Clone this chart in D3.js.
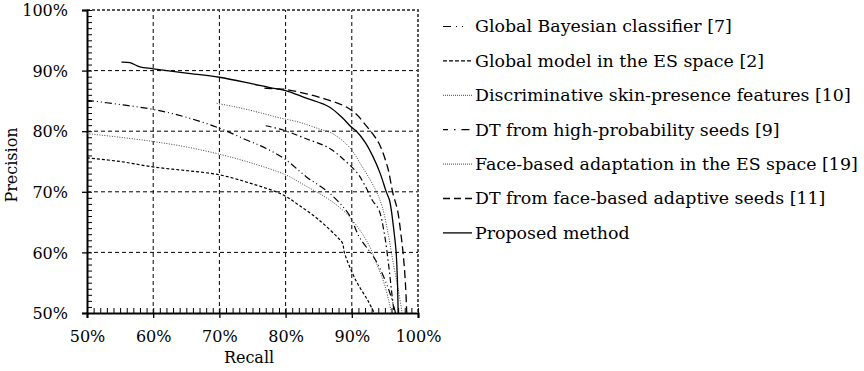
<!DOCTYPE html>
<html>
<head>
<meta charset="utf-8">
<script src="https://cdn.jsdelivr.net/npm/d3@7"></script>
<style>
  body { margin: 0; background: #fff; }
  svg text { font-family: 'DejaVu Serif', serif; fill: #000; }
</style>
</head>
<body>
<div id="canvas"></div>
<script>
// series: [recall %, precision %]
var globalBayes = [[50,85.1],[55,84.4],[60,83.6],[65,82.3],[70,80.5],[74,78.6],[77,77.2],[80,75.3],[83.1,72.5],
  [86.6,69.8],[89.6,66.2],[91.1,62.6],[93.6,58.7],[95.6,53.8],[96.6,50]];
var globalES = [[50,75.6],[55,75.0],[60,74.1],[65,73.5],[70,72.8],[75,71.3],[79.6,69.5],[82,67.8],[85.1,65.3],
  [88.1,62.2],[88.6,61.5],[88.9,59.9],[90.6,55.4],[92.4,52.1],[93.4,50]];
var discrim = [[69.6,84.6],[72,84.1],[74.5,83.5],[77,82.8],[79.1,82.2],[82,81.5],[85,80.4],[87.1,79.6],[89.6,77.4],
  [91.6,74.1],[93.6,70.3],[94.6,67.5],[95.5,63],[96.3,58],[97,54],[97.6,50]];
var dtHighProb = [[77,80.9],[79.6,80.2],[83,78.8],[86.6,77.2],[89.1,75],[90.9,73],[92.1,70.8],[93.1,68.6],
  [94.1,67],[94.9,63.2],[95.6,57.6],[96.1,52.7],[96.4,50]];
var faceES = [[50,79.6],[55,79],[60,78.3],[65,77.4],[70,76.2],[75,74.7],[80,72.8],[83,71],[86.6,68.7],[88.6,67],
  [90.1,65.3],[92.4,61.6],[93.8,58],[95,54.5],[96,50]];
var dtFace = [[76.8,87.1],[78.5,87],[80,86.9],[83,86.2],[86,85.3],[88.6,84.3],[90.5,83],[92.1,81],[93.2,79.5],
  [94.1,78],[95.4,74.1],[96.2,69.8],[96.9,67],[97.4,63.2],[97.8,59.3],[98.1,54.9],[98.3,50]];
var proposed = [[55.2,91.4],[56.5,91.3],[58,90.6],[60,90.3],[65,89.6],[70,88.9],[75,87.8],[77.6,87.2],[80,86.7],
  [83,85.5],[86.6,84],[88.5,82.3],[90,80.6],[90.7,80],[92,78.2],[93.2,75.8],[94.3,73],[95.2,70],[95.7,68.6],
  [96.4,63.2],[96.7,60],[96.9,55],[97,50]];

var seriesNames = ['Global Bayesian classifier [7]', 'Global model in the ES space [2]',
  'Discriminative skin-presence features [10]', 'DT from high-probability seeds [9]',
  'Face-based adaptation in the ES space [19]', 'DT from face-based adaptive seeds [11]', 'Proposed method'];
var seriesData = [globalBayes, globalES, discrim, dtHighProb, faceES, dtFace, proposed];
var dashes = ['7,3,1,3,1,3', '3,2', '1,1.5', '6,3,1.5,3', '1,1.5', '8,4', null];
var legDashes = ['8,5,1,5,1,20', '4,2', '1,1', '5,6,1.5,6,8,20', '1,1', '7,4', null];
var colors = ['#000', '#000', '#444', '#000', '#444', '#000', '#000'];
var widths = [1.2, 1.2, 1, 1.2, 1, 1.3, 1.3];

var xTicks = [50, 60, 70, 80, 90, 100];
var yTicks = [50, 60, 70, 80, 90, 100];
var FONT = "'DejaVu Serif', serif";

var W = 864, H = 371;
var svg = d3.select('#canvas').append('svg').attr('width', W).attr('height', H);

var x = d3.scaleLinear().domain([50, 100]).range([87, 418]);
var y = d3.scaleLinear().domain([50, 100]).range([313, 10]);

// grid
var grid = svg.append('g');
grid.selectAll('.gx').data(xTicks.slice(1, -1)).enter().append('line')
  .attr('x1', d => x(d)).attr('x2', d => x(d)).attr('y1', y(50)).attr('y2', y(100))
  .attr('stroke', '#000').attr('stroke-width', 1).attr('stroke-dasharray', '4,3');
grid.selectAll('.gy').data(yTicks.slice(1, -1)).enter().append('line')
  .attr('x1', x(50)).attr('x2', x(100)).attr('y1', d => y(d)).attr('y2', d => y(d))
  .attr('stroke', '#000').attr('stroke-width', 1).attr('stroke-dasharray', '4,3');

// top and right border
svg.append('path')
  .attr('d', 'M' + x(50) + ',' + y(100) + 'H' + x(100) + 'V' + y(50))
  .attr('fill', 'none').attr('stroke', '#555').attr('stroke-width', 2)
  .attr('stroke-dasharray', '3,2');

// minor ticks (inward)
var minor = d3.range(50, 101, 1);
var axisB = d3.axisTop(x).tickValues(minor).tickSize(5).tickFormat('');
var gB = svg.append('g').attr('transform', 'translate(0,' + y(50) + ')').call(axisB);
var axisL = d3.axisRight(y).tickValues(minor).tickSize(5).tickFormat('');
var gL = svg.append('g').attr('transform', 'translate(' + x(50) + ',0)').call(axisL);
[gB, gL].forEach(function(g) {
  g.selectAll('.tick line').attr('stroke', '#000').attr('stroke-width', 1);
  g.select('.domain').remove();
});

// major ticks (outward) with labels
var axisX = d3.axisBottom(x).tickValues(xTicks).tickSize(5).tickPadding(13).tickFormat(d => d + '%');
var gX = svg.append('g').attr('transform', 'translate(0,' + y(50) + ')').call(axisX);
var axisY = d3.axisLeft(y).tickValues(yTicks).tickSize(5).tickPadding(14).tickFormat(d => d + '%');
var gY = svg.append('g').attr('transform', 'translate(' + x(50) + ',0)').call(axisY);
[gX, gY].forEach(function(g) {
  g.attr('font-family', FONT);
  g.select('.domain').attr('stroke', '#000').attr('stroke-width', 2);
  g.selectAll('.tick line').attr('stroke', '#000').attr('stroke-width', 1.3);
  g.selectAll('.tick text').style('font-family', FONT).style('font-size', '16px').attr('fill', '#000');
});
gY.selectAll('.tick text').attr('dy', '0.35em');

svg.append('text').attr('x', 249).attr('y', 363).attr('text-anchor', 'middle')
  .style('font-size', '16px').text('Recall');
svg.append('text').attr('transform', 'translate(17,165) rotate(-90)').attr('text-anchor', 'middle')
  .style('font-size', '16px').text('Precision');

// curves
var lineY = d3.line().x(d => x(d[0])).y(d => y(d[1])).curve(d3.curveCatmullRom.alpha(0.5));
svg.append('g').selectAll('path').data(seriesData).enter().append('path')
  .attr('d', d => lineY(d))
  .attr('fill', 'none')
  .attr('stroke', (d, i) => colors[i])
  .attr('stroke-width', (d, i) => widths[i])
  .attr('stroke-dasharray', (d, i) => dashes[i]);

// legend
var leg = svg.append('g').selectAll('g').data(seriesNames).enter().append('g')
  .attr('transform', (d, i) => 'translate(443,' + (26.5 + i * 34.4) + ')');
leg.append('line').attr('x1', 0).attr('x2', 29).attr('y1', 0).attr('y2', 0)
  .attr('stroke', (d, i) => colors[i])
  .attr('stroke-width', (d, i) => widths[i])
  .attr('stroke-dasharray', (d, i) => legDashes[i]);
leg.append('text').attr('x', 32).attr('y', 0).attr('dy', '0.34em')
  .style('font-size', '17.4px').text(d => d);
</script>
</body>
</html>
